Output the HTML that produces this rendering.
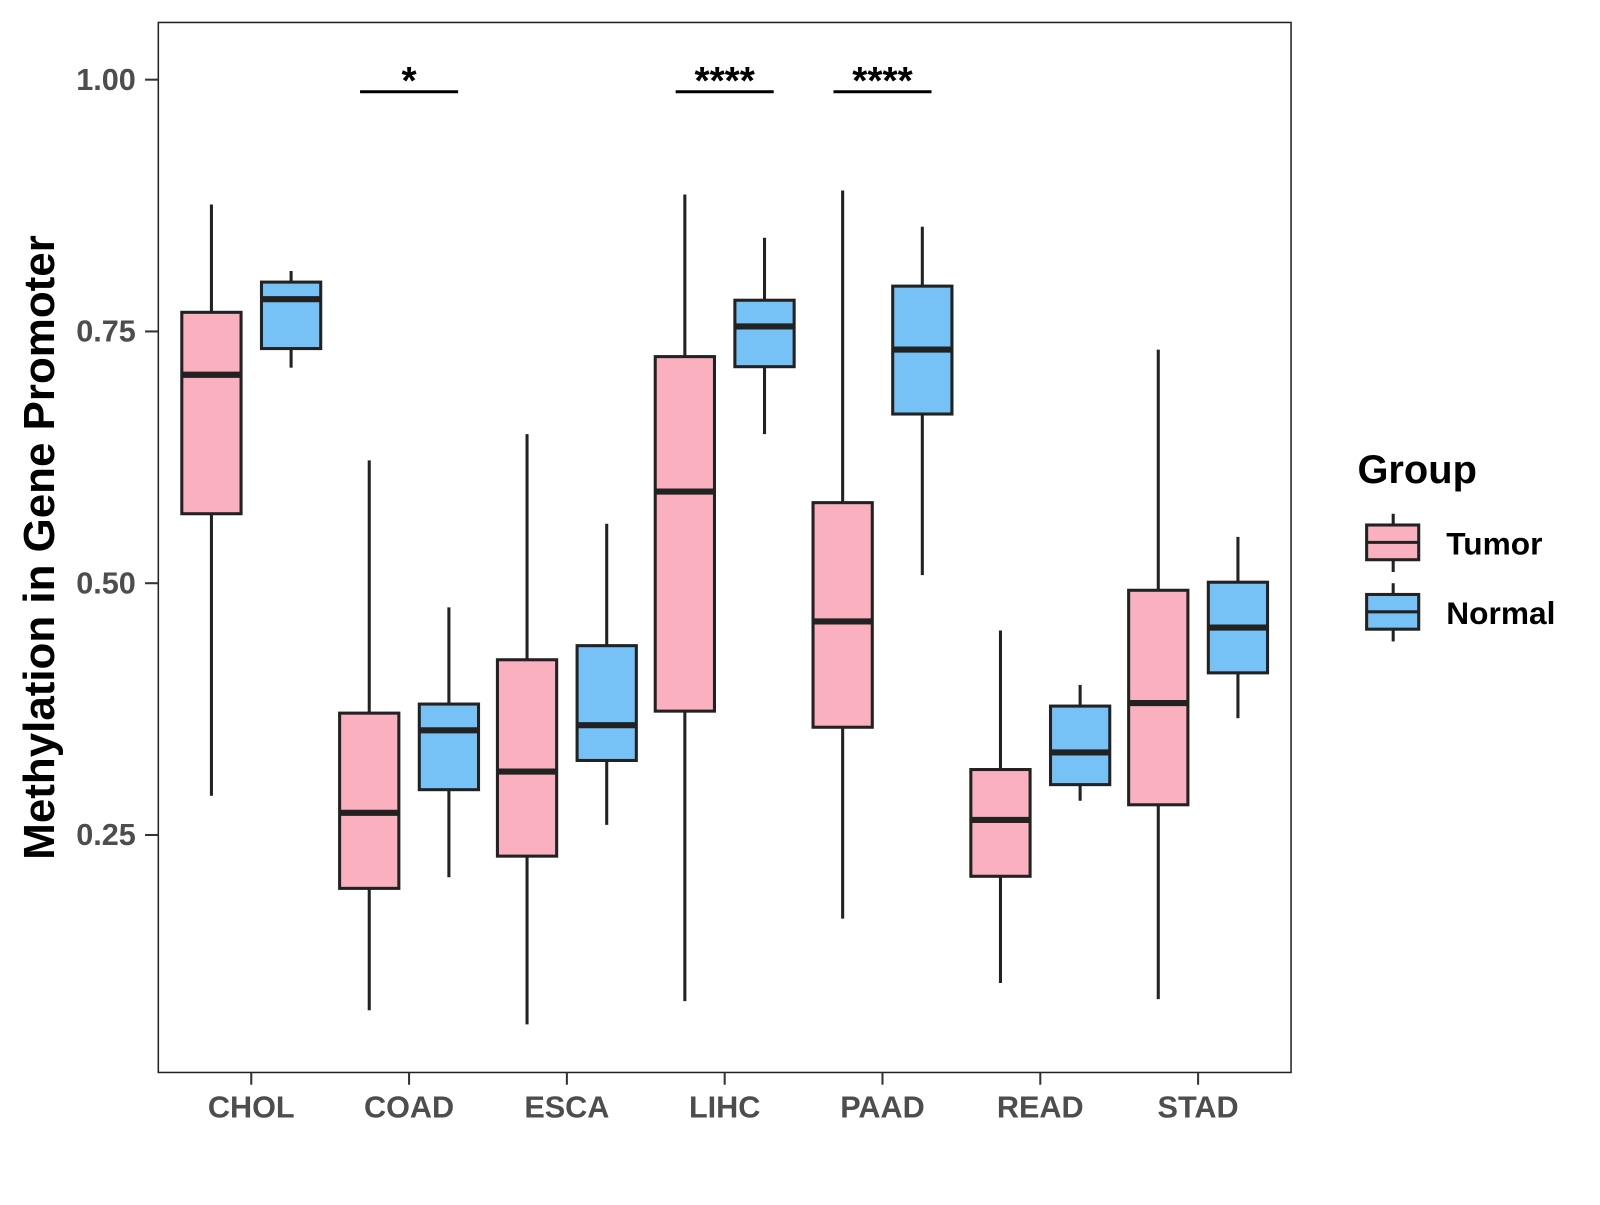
<!DOCTYPE html>
<html><head><meta charset="utf-8"><style>
body{margin:0;background:#fff;}
svg text{font-family:"Liberation Sans",Arial,sans-serif;font-weight:bold;}
</style></head><body>
<svg id="chart" width="1600" height="1200" viewBox="0 0 1600 1200" xmlns="http://www.w3.org/2000/svg">
<rect x="0" y="0" width="1600" height="1200" fill="#fff"/>
<g transform="scale(1.0214)">
<rect x="155" y="22" width="1109" height="1028" fill="none" stroke="#222" stroke-width="1.5"/>
<g id="ticks"></g>
<g id="boxes"></g>
<g id="sig"></g>
<text transform="translate(53,536) rotate(-90)" text-anchor="middle" font-size="43" fill="#000">Methylation in Gene Promoter</text>
<g>
<text x="1329" y="473" font-size="39" fill="#000">Group</text>
<g>
<line x1="1364" y1="503" x2="1364" y2="560" stroke="#222" stroke-width="3"/>
<rect x="1338" y="514" width="51" height="34" fill="#FBB0C0" stroke="#222" stroke-width="3"/>
<line x1="1338" y1="531" x2="1389" y2="531" stroke="#222" stroke-width="3"/>
<text x="1416" y="543" font-size="31" fill="#000">Tumor</text>
</g>
<g>
<line x1="1364" y1="571" x2="1364" y2="628" stroke="#222" stroke-width="3"/>
<rect x="1338" y="582" width="51" height="34" fill="#76C1F6" stroke="#222" stroke-width="3"/>
<line x1="1338" y1="599" x2="1389" y2="599" stroke="#222" stroke-width="3"/>
<text x="1416" y="611" font-size="31" fill="#000">Normal</text>
</g>
</g>
</g>
</svg>
<script>
const categories=["CHOL","COAD","ESCA","LIHC","PAAD","READ","STAD"];
const tumorMin=[0.289,0.076,0.062,0.085,0.167,0.103,0.087];
const tumorQ1=[0.569,0.197,0.229,0.373,0.357,0.209,0.280];
const tumorMed=[0.707,0.272,0.313,0.591,0.462,0.265,0.381];
const tumorQ3=[0.769,0.371,0.424,0.725,0.580,0.315,0.493];
const tumorMax=[0.876,0.622,0.648,0.886,0.890,0.453,0.732];
const normalMin=[0.714,0.208,0.260,0.648,0.508,0.284,0.366];
const normalQ1=[0.733,0.295,0.324,0.715,0.668,0.300,0.411];
const normalMed=[0.782,0.354,0.359,0.755,0.732,0.332,0.456];
const normalQ3=[0.799,0.380,0.438,0.781,0.795,0.378,0.501];
const normalMax=[0.810,0.476,0.559,0.843,0.854,0.399,0.546];
const yTicks=[0.25,0.50,0.75,1.00];
const yTickLabels=["0.25","0.50","0.75","1.00"];
const sigCategories=["COAD","LIHC","PAAD"];
const sigLabels=["*","****","****"];
const sigLevel=[0.988,0.988,0.988];

const NS="http://www.w3.org/2000/svg";
const y=v=>78+(1-v)*986;
const x=i=>246+i*154.5;
function mk(tag,attrs,parent){const e=document.createElementNS(NS,tag);for(const k in attrs)e.setAttribute(k,attrs[k]);parent.appendChild(e);return e;}
const tg=document.getElementById('ticks');
yTicks.forEach((t,i)=>{
  const l=mk('line',{x1:142,x2:155,y1:y(t),y2:y(t),stroke:'#333','stroke-width':2},tg);
  
  
  const tx=mk('text',{x:133,y:y(t)+10,'text-anchor':'end','font-size':30,fill:'#4d4d4d'},tg);
  tx.textContent=yTickLabels[i];
  
  
});
categories.forEach((c,i)=>{
  const l=mk('line',{x1:x(i),x2:x(i),y1:1050,y2:1062,stroke:'#333','stroke-width':2},tg);
  
  
  const tx=mk('text',{x:x(i),y:1094,'text-anchor':'middle','font-size':30,fill:'#4d4d4d'},tg);
  tx.textContent=c;
  
  
});
const bg=document.getElementById('boxes');
function box(cx,mn,q1,md,q3,mx,fill,name){
  const g=mk('g',{},bg);
  
  
  mk('line',{x1:cx,x2:cx,y1:y(mx),y2:y(q3),stroke:'#222','stroke-width':3},g);
  mk('line',{x1:cx,x2:cx,y1:y(q1),y2:y(mn),stroke:'#222','stroke-width':3},g);
  mk('rect',{x:cx-29,y:y(q3),width:58,height:y(q1)-y(q3),fill:fill,stroke:'#222','stroke-width':3},g);
  mk('line',{x1:cx-29,x2:cx+29,y1:y(md),y2:y(md),stroke:'#222','stroke-width':6},g);
}
categories.forEach((c,i)=>{
  box(x(i)-39,tumorMin[i],tumorQ1[i],tumorMed[i],tumorQ3[i],tumorMax[i],'#FBB0C0','box-tumor-'+c.toLowerCase());
  box(x(i)+39,normalMin[i],normalQ1[i],normalMed[i],normalQ3[i],normalMax[i],'#76C1F6','box-normal-'+c.toLowerCase());
});
const sg=document.getElementById('sig');
sigCategories.forEach((c,k)=>{
  const i=categories.indexOf(c);
  const l=mk('line',{x1:x(i)-48,x2:x(i)+48,y1:y(sigLevel[k]),y2:y(sigLevel[k]),stroke:'#000','stroke-width':3},sg);
  
  
  const t=mk('text',{x:x(i),y:y(sigLevel[k])+2,'text-anchor':'middle','font-size':38,fill:'#000'},sg);
  t.textContent=sigLabels[k];
  
  
});
</script>
</body></html>
